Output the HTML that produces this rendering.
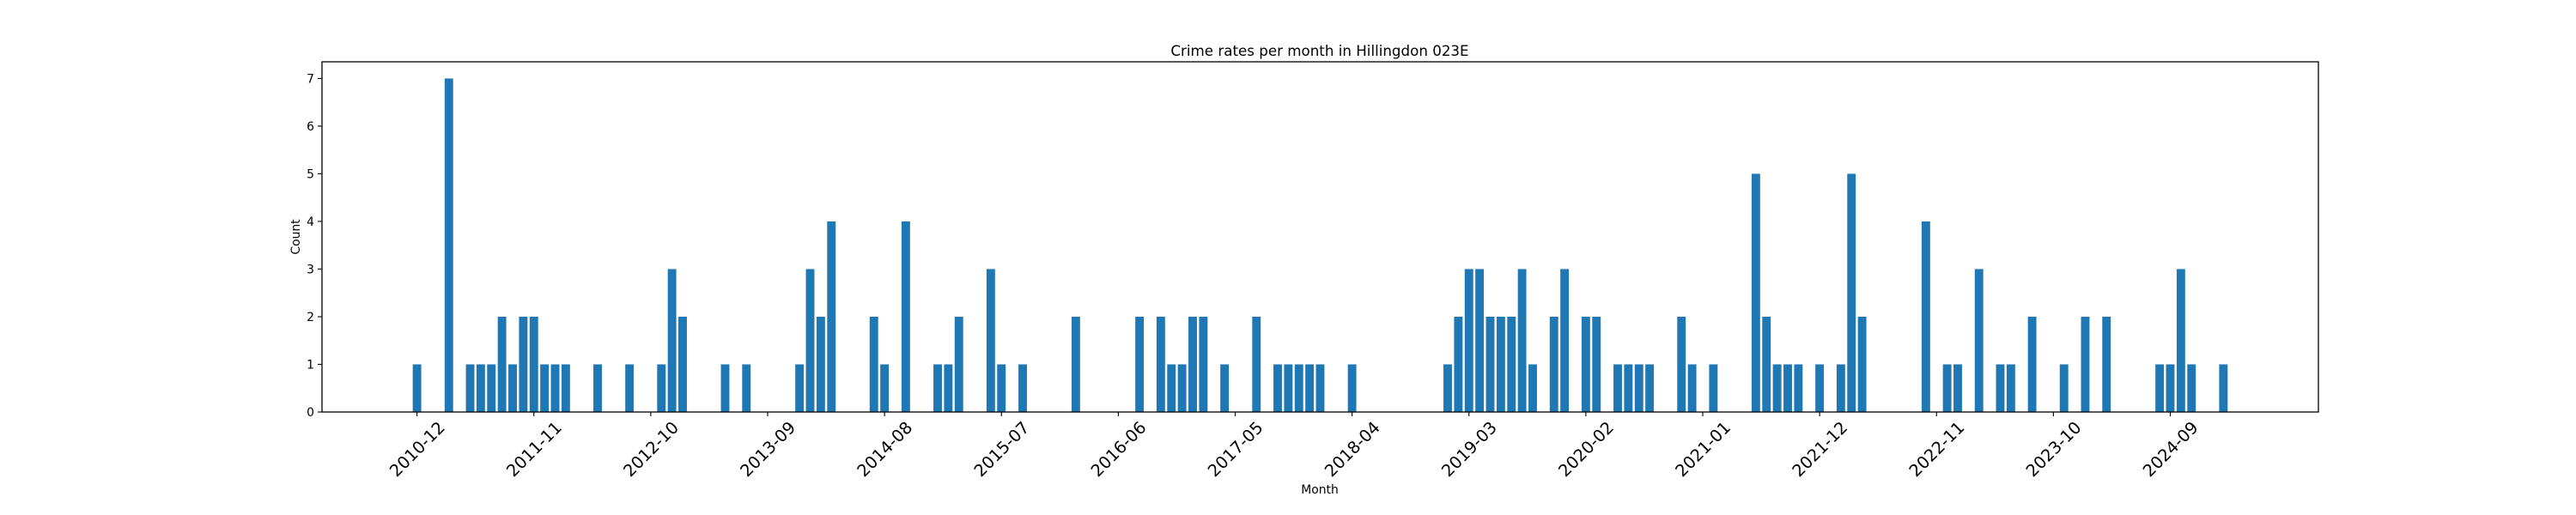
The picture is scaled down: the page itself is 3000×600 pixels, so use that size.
<!DOCTYPE html>
<html><head><meta charset="utf-8"><style>
html,body{margin:0;padding:0;background:#fff;}
svg{display:block;font-family:"DejaVu Sans","Liberation Sans",sans-serif;}
</style></head>
<body>
<svg id="chart" width="3000" height="600" viewBox="0 0 3000 600" xmlns="http://www.w3.org/2000/svg">
<rect width="3000" height="600" fill="#fff"/>
<text x="1537" y="65" font-size="16.7" text-anchor="middle">Crime rates per month in Hillingdon 023E</text>
<g id="bars"></g>
<g id="yaxis"></g>
<g id="xaxis"></g>
<rect x="375" y="72" width="2325" height="408" fill="none" stroke="#000" stroke-width="1.3"/>
<text x="0" y="0" font-size="13.9" text-anchor="middle" transform="translate(349,276) rotate(-90)">Count</text>
<text x="1537" y="575" font-size="13.9" text-anchor="middle">Month</text>
</svg>
<script>
const startYear = 2010, startMonth = 12, monthCount = 171;
const nonZeroIdx = [0,3,5,6,7,8,9,10,11,12,13,14,17,20,23,24,25,29,31,36,37,38,39,43,44,46,49,50,51,54,55,57,62,68,70,71,72,73,74,76,79,81,82,83,84,85,88,97,98,99,100,101,102,103,104,105,107,108,110,111,113,114,115,116,119,120,122,126,127,128,129,130,132,134,135,136,142,144,145,147,149,150,152,155,157,159,164,165,166,167,170];
const nonZeroVal = [1,7,1,1,1,2,1,2,2,1,1,1,1,1,1,3,2,1,1,1,3,2,4,2,1,4,1,1,2,3,1,1,2,2,2,1,1,2,2,1,2,1,1,1,1,1,1,1,2,3,3,2,2,2,3,1,2,3,2,2,1,1,1,1,2,1,1,5,2,1,1,1,1,1,5,2,4,1,1,3,1,1,2,1,2,2,1,1,3,1,1];
const yTicks = [0,1,2,3,4,5,6,7];
const xTickEvery = 11;

const NS = "http://www.w3.org/2000/svg";
const L = 375, R = 2700, T = 72, B = 480;
const months = [];
for (let i = 0; i < monthCount; i++) {
  const m0 = startMonth - 1 + i;
  const y = startYear + Math.floor(m0 / 12), m = m0 % 12 + 1;
  months.push(y + "-" + String(m).padStart(2, "0"));
}
const counts = new Array(monthCount).fill(0);
nonZeroIdx.forEach((ix, k) => { counts[ix] = nonZeroVal[k]; });
const maxV = Math.max(...counts) * 1.05;
const xMin = -0.4 - 0.05 * (monthCount - 1 + 0.8), xMax = monthCount - 1 + 0.4 + 0.05 * (monthCount - 1 + 0.8);
const xs = i => L + (i - xMin) / (xMax - xMin) * (R - L);
const ys = v => B - v / maxV * (B - T);
const bw = 0.8 * (R - L) / (xMax - xMin);

const gb = document.getElementById("bars");
counts.forEach((v, i) => {
  const r = document.createElementNS(NS, "rect");
  
  
  r.setAttribute("x", xs(i) - bw / 2);
  r.setAttribute("width", bw);
  r.setAttribute("y", ys(v));
  r.setAttribute("height", B - ys(v));
  r.setAttribute("fill", "#1f77b4");
  gb.appendChild(r);
});

const gy = document.getElementById("yaxis");
yTicks.forEach(t => {
  const y = ys(t);
  const ln = document.createElementNS(NS, "line");
  
  
  ln.setAttribute("x1", L - 5); ln.setAttribute("x2", L);
  ln.setAttribute("y1", y); ln.setAttribute("y2", y);
  ln.setAttribute("stroke", "#000"); ln.setAttribute("stroke-width", "1.1");
  gy.appendChild(ln);
  const tx = document.createElementNS(NS, "text");
  
  
  tx.setAttribute("x", L - 9); tx.setAttribute("y", y + 5);
  tx.setAttribute("font-size", "13.9"); tx.setAttribute("text-anchor", "end");
  tx.textContent = t;
  gy.appendChild(tx);
});

const gx = document.getElementById("xaxis");
for (let i = 0; i < monthCount; i += xTickEvery) {
  const x = xs(i);
  const ln = document.createElementNS(NS, "line");
  
  
  ln.setAttribute("x1", x); ln.setAttribute("x2", x);
  ln.setAttribute("y1", B); ln.setAttribute("y2", B + 5);
  ln.setAttribute("stroke", "#000"); ln.setAttribute("stroke-width", "1.1");
  gx.appendChild(ln);
  const tx = document.createElementNS(NS, "text");
  
  
  tx.setAttribute("x", 0); tx.setAttribute("y", 7);
  tx.setAttribute("font-size", "19.4"); tx.setAttribute("text-anchor", "middle");
  tx.setAttribute("transform", "translate(" + x + "," + (B + 43) + ") rotate(-45)");
  tx.textContent = months[i];
  gx.appendChild(tx);
}
</script>
</body></html>
